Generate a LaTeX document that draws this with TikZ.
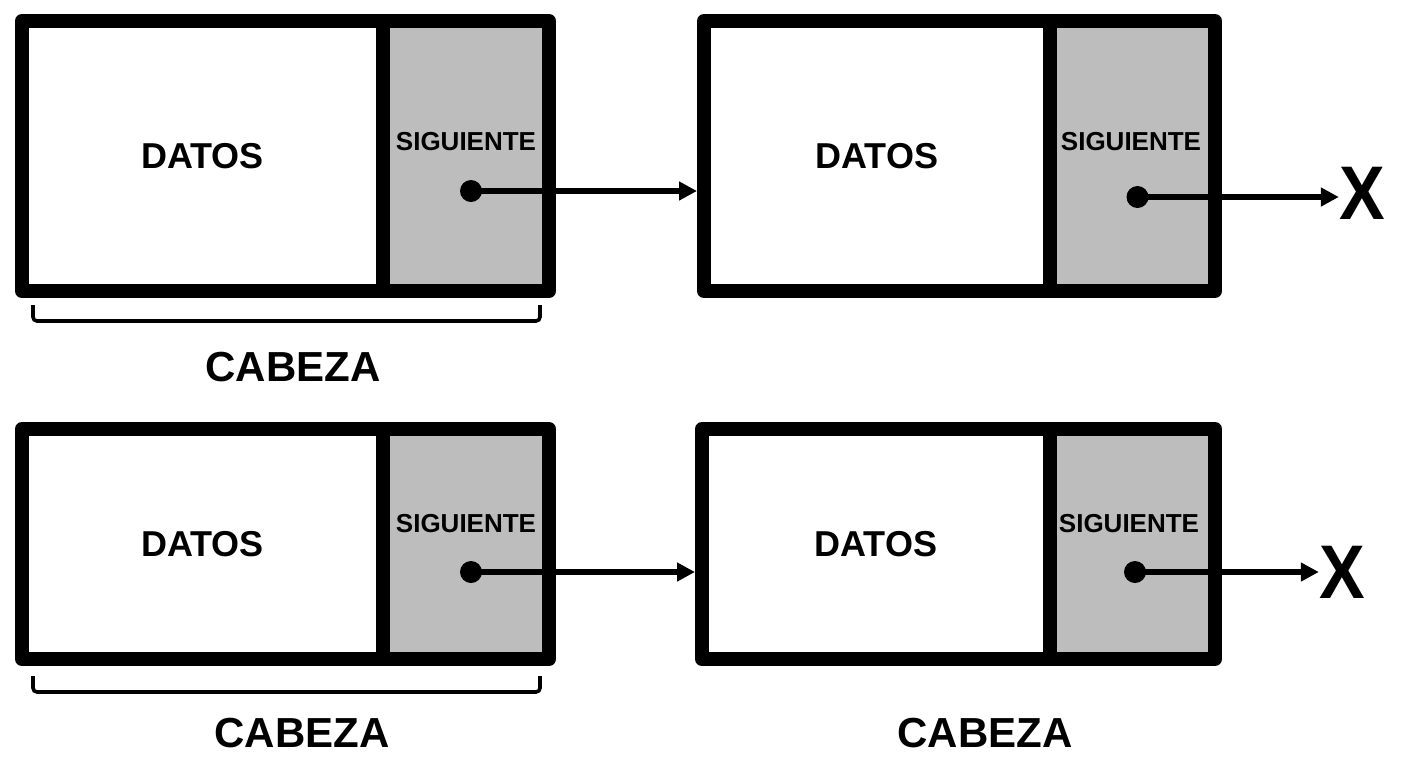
\documentclass[tikz,border=0pt]{standalone}
\usepackage{fontspec}
\setmainfont{Liberation Sans}
\usetikzlibrary{arrows.meta, positioning, calc}
\definecolor{cellgray}{RGB}{189,189,189}

\begin{document}
\begin{tikzpicture}[
    x=0.5pt, y=-0.5pt,
    cell/.style={rectangle, draw, line width=7pt, outer sep=0pt, inner sep=0pt, line join=round},
    datos/.style={cell, fill=white, font=\bfseries\fontsize{18}{18}\selectfont},
    sig/.style={cell, fill=cellgray, minimum width=83pt},
    small/.style={font=\bfseries\fontsize{13}{13}\selectfont, inner sep=0pt},
    big/.style={font=\bfseries\fontsize{21}{21}\selectfont, inner sep=0pt},
    nil/.style={font=\bfseries\fontsize{38}{38}\selectfont, inner sep=0pt, xscale=0.9},
    dot/.style={circle, fill=black, inner sep=0pt, minimum size=11pt},
    arrow/.style={-{Triangle[length=9pt, width=9pt]}, line width=2.6pt},
    brace/.style={line width=1.8pt, rounded corners=2pt}
]
\path[use as bounding box, fill=white] (0,0) rectangle (1408,768);

% top list
\node[datos, minimum width=180.5pt, minimum height=135pt] (d1) at (202.5,156) {DATOS};
\node[sig, minimum height=135pt, right=0pt of d1] (s1) {};
\node[small] (t1) at ($(s1.center)+(0,-14)$) {SIGUIENTE};
\node[dot] (p1) at ($(s1.center)+(5,35)$) {};

\node[datos, minimum width=173pt, minimum height=135pt, right=77.5pt of s1] (d2) {DATOS};
\node[sig, minimum width=82.5pt, minimum height=135pt, right=0pt of d2] (s2) {};
\node[small] (t2) at ($(s2.center)+(-1.5,-14)$) {SIGUIENTE};
\node[dot] (p2) at ($(s2.center)+(5,41)$) {};
\node[nil] (x1) at (1362,193) {X};

\draw[arrow, shorten >=3.5pt] (p1.center) -- (d2.west |- p1.center);
\draw[arrow] (p2.center) -- (x1.west |- p2.center);

\draw[brace] ($(d1.south west)+(11,14)$) |- ($(s1.south east)+(-9,30)$) -- ($(s1.south east)+(-9,14)$);
\node[big] (c1) at (293,367) {CABEZA};

% bottom list
\node[datos, minimum width=180.5pt, minimum height=115pt] (d3) at (202.5,544) {DATOS};
\node[sig, minimum height=115pt, right=0pt of d3] (s3) {};
\node[small] (t3) at ($(s3.center)+(0,-20)$) {SIGUIENTE};
\node[dot] (p3) at ($(s3.center)+(5,28)$) {};

\node[datos, minimum width=174pt, minimum height=115pt, right=76.5pt of s3] (d4) {DATOS};
\node[sig, minimum width=82.5pt, minimum height=115pt, right=0pt of d4] (s4) {};
\node[small] (t4) at ($(s4.center)+(-3.5,-20)$) {SIGUIENTE};
\node[dot] (p4) at ($(s4.center)+(2.5,28)$) {};
\node[nil] (x2) at (1342,572) {X};

\draw[arrow, shorten >=3.5pt] (p3.center) -- (d4.west |- p3.center);
\draw[arrow] (p4.center) -- (x2.west |- p4.center);

\draw[brace] ($(d3.south west)+(11,17)$) |- ($(s3.south east)+(-9,33)$) -- ($(s3.south east)+(-9,17)$);
\node[big] (c2) at (302,733) {CABEZA};
\node[big] (c3) at (985,733) {CABEZA};

\end{tikzpicture}
\end{document}
